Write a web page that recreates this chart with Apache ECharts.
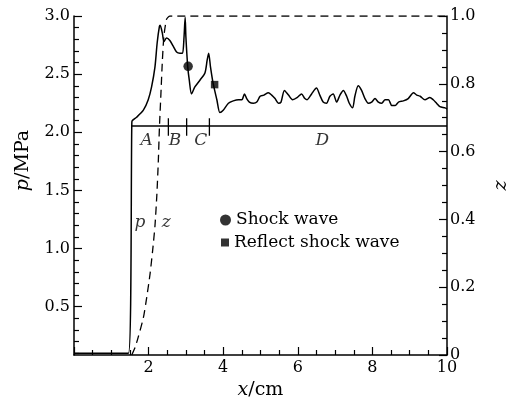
<!DOCTYPE html>
<html>
<head>
<meta charset="utf-8">
<script src="https://cdn.jsdelivr.net/npm/echarts@6/dist/echarts.min.js"></script>
<style>html,body{margin:0;padding:0;background:#fff}#c{width:519px;height:405px}</style>
</head>
<body>
<div id="c"></div>
<script>
// pressure p (MPa) vs x (cm)
const pX = [0, 1.46, 1.55, 1.56, 1.68, 1.86, 1.99, 2.08, 2.17, 2.23, 2.29, 2.31, 2.37, 2.41, 2.48, 2.57, 2.66, 2.75, 2.84, 2.91, 2.95, 2.98, 3.0, 3.05, 3.09, 3.15, 3.24, 3.38, 3.51, 3.57, 3.61, 3.66, 3.73, 3.83, 3.91, 4.0, 4.14, 4.27, 4.41, 4.5, 4.57, 4.63, 4.7, 4.81, 4.9, 4.99, 5.09, 5.21, 5.3, 5.39, 5.48, 5.55, 5.64, 5.75, 5.86, 5.99, 6.1, 6.19, 6.25, 6.37, 6.5, 6.59, 6.68, 6.77, 6.86, 6.95, 7.04, 7.13, 7.22, 7.31, 7.38, 7.47, 7.53, 7.62, 7.71, 7.8, 7.89, 7.98, 8.07, 8.16, 8.25, 8.34, 8.43, 8.52, 8.61, 8.7, 8.83, 8.96, 9.1, 9.19, 9.28, 9.41, 9.54, 9.63, 9.72, 9.81, 9.95, 10];
const pY = [0.1, 0.1, 2.08, 2.1, 2.13, 2.19, 2.28, 2.39, 2.56, 2.77, 2.91, 2.92, 2.85, 2.78, 2.81, 2.79, 2.74, 2.69, 2.68, 2.68, 2.82, 2.99, 2.82, 2.56, 2.45, 2.33, 2.39, 2.45, 2.51, 2.62, 2.68, 2.56, 2.42, 2.28, 2.17, 2.19, 2.25, 2.27, 2.28, 2.28, 2.33, 2.29, 2.26, 2.25, 2.26, 2.31, 2.32, 2.34, 2.32, 2.29, 2.25, 2.26, 2.36, 2.32, 2.28, 2.30, 2.33, 2.29, 2.28, 2.33, 2.38, 2.32, 2.26, 2.25, 2.31, 2.33, 2.26, 2.32, 2.36, 2.31, 2.25, 2.21, 2.31, 2.40, 2.36, 2.29, 2.25, 2.26, 2.29, 2.26, 2.25, 2.28, 2.28, 2.23, 2.23, 2.26, 2.27, 2.29, 2.34, 2.32, 2.31, 2.28, 2.30, 2.28, 2.25, 2.22, 2.21, 2.2];
// z vs x
const zX = [1.55, 1.64, 1.72, 1.86, 1.95, 2.04, 2.11, 2.17, 2.22, 2.26, 2.29, 2.33, 2.37, 2.41, 2.48, 2.57, 10];
const zY = [0, 0.023, 0.052, 0.11, 0.17, 0.24, 0.31, 0.38, 0.47, 0.57, 0.67, 0.77, 0.87, 0.94, 0.99, 1.0, 1.0];
// zone line A-D
const zoneLevel = 2.054;
const zoneStart = 1.55;
const zoneEnd = 10;
const zoneBounds = [2.53, 3.02, 3.63];
const zoneNames = ['A', 'B', 'C', 'D'];
const zoneLabelX = [1.95, 2.71, 3.40, 6.66];
const zoneLabelY = [1.93, 1.93, 1.93, 1.93];
// markers
const shockWave = [3.06, 2.567];
const reflectShockWave = [3.77, 2.41];
// curve labels
const curveNames = ['p', 'z'];
const curveLabelX = [1.77, 2.47];
const curveLabelY = [1.22, 1.22];
// ticks
const pMajorTicks = [0.5, 1.0, 1.5, 2.0, 2.5, 3.0];
const pMinorTicks = [0.1,0.2,0.3,0.4,0.6,0.7,0.8,0.9,1.1,1.2,1.3,1.4,1.6,1.7,1.8,1.9,2.1,2.2,2.3,2.4,2.6,2.7,2.8,2.9];

const FONT = 'DejaVu Serif';
const BLACK = '#000';
const pMin = 0.085, pMax = 3.0;

const chart = echarts.init(document.getElementById('c'), null, {renderer: 'canvas'});

const series = [];
series.push({
  type: 'line', name: 'p', yAxisIndex: 0, showSymbol: false, symbol: 'none',
  data: pX.map((x, i) => [x, pY[i]]),
  lineStyle: {color: BLACK, width: 1.5}, smooth: 0.25, z: 3
});
series.push({
  type: 'line', name: 'z', yAxisIndex: 1, showSymbol: false, symbol: 'none',
  data: zX.map((x, i) => [x, zY[i]]),
  lineStyle: {color: BLACK, width: 1.3, type: [8, 5]}, smooth: 0.2, z: 2
});
series.push({
  type: 'line', yAxisIndex: 0, showSymbol: false, symbol: 'none',
  data: [[zoneStart, zoneLevel], [zoneEnd, zoneLevel]],
  lineStyle: {color: BLACK, width: 1.5}
});
zoneBounds.forEach(b => {
  series.push({
    type: 'line', yAxisIndex: 0, showSymbol: false, symbol: 'none',
    data: [[b, 1.97], [b, 2.12]],
    lineStyle: {color: BLACK, width: 1.3}
  });
});
const labelStyle = {show: true, position: 'inside', formatter: '{b}', color: BLACK,
  fontFamily: FONT, fontStyle: 'italic', fontSize: 17};
series.push({
  type: 'scatter', yAxisIndex: 0, symbolSize: 0, silent: true,
  data: zoneNames.map((n, i) => ({name: n, value: [zoneLabelX[i], zoneLabelY[i]]})),
  label: labelStyle
});
series.push({
  type: 'scatter', yAxisIndex: 0, symbolSize: 0, silent: true,
  data: curveNames.map((n, i) => ({name: n, value: [curveLabelX[i], curveLabelY[i]]})),
  label: labelStyle
});
series.push({
  type: 'scatter', name: 'Shock wave', yAxisIndex: 0, symbol: 'circle', symbolSize: 9.5,
  data: [shockWave], itemStyle: {color: BLACK}, z: 5
});
series.push({
  type: 'scatter', name: 'Reflect shock wave', yAxisIndex: 0, symbol: 'rect', symbolSize: 7.5,
  data: [reflectShockWave], itemStyle: {color: BLACK}, z: 5
});

const legendText = {color: BLACK, fontFamily: FONT, fontSize: 17};
const tickFont = {color: BLACK, fontFamily: FONT, fontSize: 16};

chart.setOption({
  animation: false,
  backgroundColor: '#fff',
  textStyle: {fontFamily: FONT, color: BLACK},
  grid: {left: 74, right: 72, top: 16, bottom: 50, containLabel: false},
  legend: [
    {data: [{name: 'Shock wave', icon: 'circle'}], left: 220, top: 211.5, padding: 0,
     itemWidth: 11, itemHeight: 11, textStyle: legendText, itemStyle: {color: BLACK}, selectedMode: false},
    {data: [{name: 'Reflect shock wave', icon: 'rect'}], left: 221, top: 234, padding: 0,
     itemWidth: 8, itemHeight: 8, textStyle: legendText, itemStyle: {color: BLACK}, selectedMode: false}
  ],
  xAxis: {
    type: 'value', min: 0, max: 10, interval: 2,
    name: '{i|x}/cm', nameLocation: 'middle', nameGap: 25,
    nameTextStyle: {color: BLACK, fontFamily: FONT, fontSize: 19, rich: {i: {fontStyle: 'italic', fontFamily: FONT, fontSize: 19}}},
    axisLine: {show: true, onZero: false, lineStyle: {color: BLACK, width: 1.5}},
    axisTick: {show: true, inside: true, length: 8, lineStyle: {color: BLACK, width: 1.2}},
    minorTick: {show: true, splitNumber: 4, length: 5, lineStyle: {color: BLACK, width: 1.2}},
    axisLabel: Object.assign({margin: 5, showMinLabel: false}, tickFont),
    splitLine: {show: false}, minorSplitLine: {show: false}
  },
  yAxis: [
    {
      type: 'value', position: 'left', min: pMin, max: pMax,
      name: '{i|p}/MPa', nameLocation: 'middle', nameGap: 41, nameRotate: 90,
      nameTextStyle: {color: BLACK, fontFamily: FONT, fontSize: 19, padding: [0, 0, 0, 50],
        rich: {i: {fontStyle: 'italic', fontFamily: FONT, fontSize: 19}}},
      axisLine: {show: true, onZero: false, lineStyle: {color: BLACK, width: 1.5}},
      axisTick: {show: true, inside: true, length: 8, customValues: pMajorTicks, lineStyle: {color: BLACK, width: 1.2}},
      axisLabel: Object.assign({margin: 4, customValues: pMajorTicks, formatter: v => v.toFixed(1)}, tickFont),
      splitLine: {show: false}
    },
    {
      type: 'value', position: 'right', min: 0, max: 1, interval: 0.2,
      name: '{i|z}', nameLocation: 'middle', nameGap: 44, nameRotate: -90,
      nameTextStyle: {color: BLACK, fontFamily: FONT, fontSize: 19,
        rich: {i: {fontStyle: 'italic', fontFamily: FONT, fontSize: 19}}},
      axisLine: {show: true, onZero: false, lineStyle: {color: BLACK, width: 1.5}},
      axisTick: {show: true, inside: true, length: 8, lineStyle: {color: BLACK, width: 1.2}},
      minorTick: {show: true, splitNumber: 4, length: 5, lineStyle: {color: BLACK, width: 1.2}},
      axisLabel: Object.assign({margin: 3, formatter: v => (v === 0 ? '0' : v.toFixed(1))}, tickFont),
      splitLine: {show: false}, minorSplitLine: {show: false}
    },
    {
      type: 'value', position: 'left', min: pMin, max: pMax,
      axisLine: {show: false},
      axisTick: {show: true, inside: true, length: 5, customValues: pMinorTicks, lineStyle: {color: BLACK, width: 1.2}},
      axisLabel: {show: false},
      splitLine: {show: false}
    }
  ],
  series: series
});
</script>
</body>
</html>
